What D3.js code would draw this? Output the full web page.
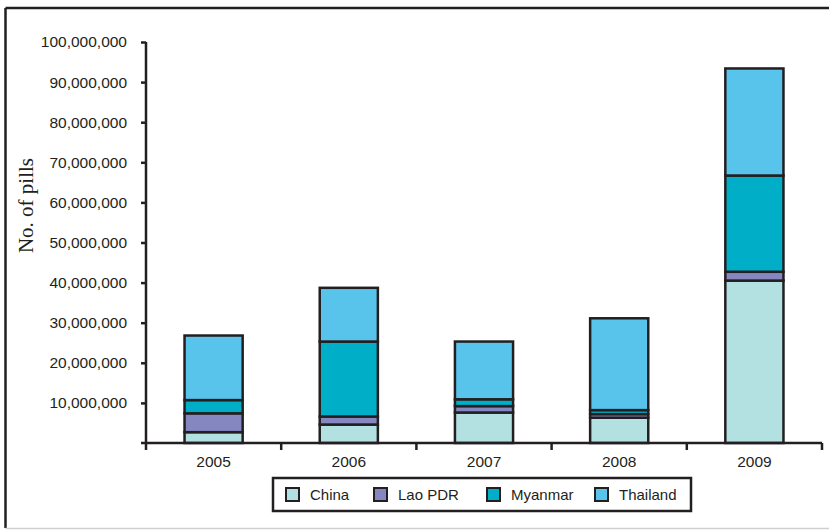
<!DOCTYPE html>
<html>
<head>
<meta charset="utf-8">
<script src="https://cdn.jsdelivr.net/npm/d3@7"></script>
<style>
  html, body { margin: 0; padding: 0; background: #fff; }
  svg { display: block; }
</style>
</head>
<body>
<svg id="chart" width="829" height="530"></svg>
<script>
const years = ["2005", "2006", "2007", "2008", "2009"];
const seriesNames = ["China", "Lao PDR", "Myanmar", "Thailand"];
const china    = [2.7e6, 4.6e6, 7.6e6, 6.3e6, 40.5e6];
const lao      = [4.7e6, 2.0e6, 1.6e6, 0.9e6, 2.2e6];
const myanmar  = [3.3e6, 18.7e6, 1.7e6, 1.0e6, 24.0e6];
const thailand = [16.1e6, 13.4e6, 14.4e6, 22.9e6, 26.7e6];
const yTicks = [0, 10e6, 20e6, 30e6, 40e6, 50e6, 60e6, 70e6, 80e6, 90e6, 100e6];
const colors = ["#b3e0e0", "#8587c0", "#00aec8", "#58c4ec"];

const ink = "#231f20";
const svg = d3.select("#chart");

// outer frame
svg.append("line").attr("x1", 5.5).attr("x2", 829).attr("y1", 8).attr("y2", 8)
  .attr("stroke", ink).attr("stroke-width", 2.5);
svg.append("line").attr("x1", 5.5).attr("x2", 5.5).attr("y1", 8).attr("y2", 528)
  .attr("stroke", ink).attr("stroke-width", 2.5);
svg.append("line").attr("x1", 5.5).attr("x2", 829).attr("y1", 528.5).attr("y2", 528.5)
  .attr("stroke", "#d0d0d0").attr("stroke-width", 1.5);

const x0 = 146, x1 = 822, yTop = 42, yBot = 443;
const x = d3.scaleBand().domain(years).range([x0, x1]).paddingInner(0.57).paddingOuter(0.285);
const y = d3.scaleLinear().domain([0, 100e6]).range([yBot, yTop]);

const rows = years.map((yr, i) => ({
  year: yr, "China": china[i], "Lao PDR": lao[i], "Myanmar": myanmar[i], "Thailand": thailand[i]
}));
const stack = d3.stack().keys(seriesNames)(rows);

// bars
const g = svg.append("g");
stack.forEach((layer, li) => {
  g.selectAll(null).data(layer).enter().append("rect")
    .attr("x", d => x(d.data.year))
    .attr("width", x.bandwidth())
    .attr("y", d => y(d[1]))
    .attr("height", d => y(d[0]) - y(d[1]))
    .attr("fill", colors[li])
    .attr("stroke", ink)
    .attr("stroke-width", 2.5);
});

// y axis
const yAxis = d3.axisLeft(y).tickValues(yTicks.slice(1)).tickSize(5).tickPadding(14)
  .tickFormat(d3.format(","));
const ya = svg.append("g").attr("transform", `translate(${x0},0)`).call(yAxis);
ya.select(".domain").remove();
ya.selectAll(".tick line").attr("stroke", ink).attr("stroke-width", 2.5);
ya.selectAll(".tick text").attr("fill", ink).style("font-family", "'Liberation Sans', Arial, sans-serif")
  .style("font-size", "15.5px");
svg.append("line").attr("x1", x0).attr("x2", x0).attr("y1", yTop).attr("y2", yBot + 7)
  .attr("stroke", ink).attr("stroke-width", 2.5);

// x axis
svg.append("line").attr("x1", x0 - 5).attr("x2", x1).attr("y1", yBot).attr("y2", yBot)
  .attr("stroke", ink).attr("stroke-width", 2.5);
const xa = svg.append("g").attr("transform", `translate(0,${yBot})`)
  .call(d3.axisBottom(x).tickSize(0).tickPadding(13));
xa.select(".domain").remove();
xa.selectAll(".tick text").attr("fill", ink).style("font-family", "'Liberation Sans', Arial, sans-serif")
  .style("font-size", "15.5px");
const step = (x1 - x0) / years.length;
years.forEach((yr, i) => {
  const bx = x0 + step * (i + 1);
  svg.append("line").attr("x1", bx).attr("x2", bx).attr("y1", yBot).attr("y2", yBot + 7)
    .attr("stroke", ink).attr("stroke-width", 2.5);
});

// y label
svg.append("text")
  .attr("transform", "translate(33,205.5) rotate(-90)")
  .attr("text-anchor", "middle")
  .attr("fill", ink)
  .style("font-family", "'Liberation Serif', 'Times New Roman', serif")
  .style("font-size", "21px")
  .text("No. of pills");

// legend
const lg = svg.append("g");
lg.append("rect").attr("x", 273).attr("y", 478).attr("width", 418).attr("height", 33)
  .attr("fill", "#fff").attr("stroke", ink).attr("stroke-width", 2.5);
const legX = [286, 374, 487, 595];
seriesNames.forEach((n, i) => {
  lg.append("rect").attr("x", legX[i]).attr("y", 488).attr("width", 13).attr("height", 13)
    .attr("fill", colors[i]).attr("stroke", ink).attr("stroke-width", 2);
  lg.append("text").attr("x", legX[i] + 24).attr("y", 500)
    .attr("fill", ink)
    .style("font-family", "'Liberation Sans', Arial, sans-serif")
    .style("font-size", "15px")
    .text(n);
});
</script>
</body>
</html>
